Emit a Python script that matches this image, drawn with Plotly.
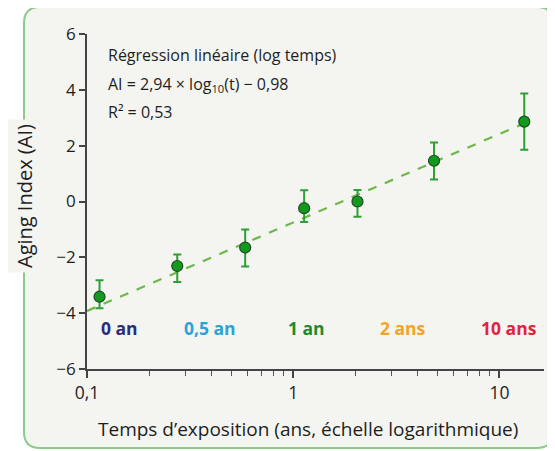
import numpy as np
import plotly.graph_objects as go

# ---------------- data ----------------
temps = [0.115, 0.274, 0.585, 1.13, 2.05, 4.82, 13.2]
aging_index = [-3.41, -2.31, -1.65, -0.24, 0.0, 1.46, 2.86]
err_plus = [0.59, 0.41, 0.65, 0.64, 0.41, 0.65, 1.01]
err_minus = [0.41, 0.57, 0.68, 0.49, 0.55, 0.67, 1.01]

fit_t = [0.1, 13.2]
fit_ai = [-3.92, 2.80]

period_labels = ["0 an", "0,5 an", "1 an", "2 ans", "10 ans"]
period_colors = ["#2b2c7c", "#2ba3d6", "#1d8a2c", "#f5a325", "#e1243c"]
period_t = [0.1435, 0.397, 1.16, 3.4, 11.1]

x_tickvals = [0.1, 1, 10]
x_ticktext = ["0,1", "1", "10"]
y_tickvals = [-6, -4, -2, 0, 2, 4, 6]

# ---------------- layout geometry ----------------
# the page body adds an 8 px margin, so the figure is drawn 8 px smaller
OFF = 8
W, H = 555 - OFF, 451 - OFF
ML, MR, MT, MB = 87 - OFF, 19 - OFF, 34 - OFF, 90 - OFF
PW, PH = W - ML - MR, H - MT - MB

def px2paper(x, y):
    # x, y are target-image pixel coordinates
    return (x - OFF - ML) / PW, (H - MB - (y - OFF)) / PH

FONT = "'Open Sans', sans-serif"
TXT = "#1e1e1e"

fig = go.Figure()

# regression line
fig.add_trace(go.Scatter(
    x=fit_t, y=fit_ai, mode="lines",
    line=dict(color="#6cb84a", width=2.2, dash="dash"),
    hoverinfo="skip", showlegend=False))

# points with error bars
fig.add_trace(go.Scatter(
    x=temps, y=aging_index, mode="markers",
    marker=dict(size=11, color="#119a1c", line=dict(color="#24482a", width=1.2)),
    error_y=dict(type="data", symmetric=False, array=err_plus, arrayminus=err_minus,
                 color="#2e9e36", thickness=2, width=4),
    showlegend=False))

# frame (rounded rectangle) in paper coordinates
L, R, T, B, r = 24, 553, 7, 448, 16
def P(x, y):
    px, py = px2paper(x, y)
    return f"{px:.5f},{py:.5f}"
path = (f"M {P(L + r, T)} L {P(R - r, T)} Q {P(R, T)} {P(R, T + r)} "
        f"L {P(R, B - r)} Q {P(R, B)} {P(R - r, B)} "
        f"L {P(L + r, B)} Q {P(L, B)} {P(L, B - r)} "
        f"L {P(L, T + r)} Q {P(L, T)} {P(L + r, T)} Z")
fig.add_shape(type="path", path=path, xref="paper", yref="paper",
              line=dict(color="#8dc98a", width=2), fillcolor="#f4f5f1", layer="below")

# regression annotation
ax0, _ = px2paper(107, 0)
for txt, yy in [
        ("Régression linéaire (log temps)", 55),
        ("AI = 2,94 × log<sub>10</sub>(t) − 0,98", 84),
        ("R² = 0,53", 112)]:
    _, ay = px2paper(0, yy)
    fig.add_annotation(x=ax0, y=ay, xref="paper", yref="paper", text=txt,
                       showarrow=False, xanchor="left", yanchor="middle", borderpad=0,
                       font=dict(family=FONT, size=16, color=TXT))

# period labels
_, ly = px2paper(0, 328)
for lab, col, t in zip(period_labels, period_colors, period_t):
    fig.add_annotation(x=np.log10(t), y=ly, xref="x", yref="paper", text=f"<b>{lab}</b>",
                       showarrow=False, xanchor="center", yanchor="middle",
                       font=dict(family=FONT, size=17.5, color=col))

# axis titles
tx, ty = px2paper(308, 429)
fig.add_annotation(x=tx, y=ty, xref="paper", yref="paper",
                   text="Temps d’exposition (ans, échelle logarithmique)",
                   showarrow=False, xanchor="center", yanchor="middle",
                   font=dict(family=FONT, size=19, color=TXT))
yx, yy = px2paper(24, 196)
fig.add_annotation(x=yx, y=yy, xref="paper", yref="paper",
                   text="Aging Index (AI)", textangle=-90,
                   showarrow=False, xanchor="center", yanchor="middle",
                   bgcolor="#f4f5f1", borderpad=4,
                   font=dict(family=FONT, size=20, color=TXT))

fig.update_xaxes(type="log", range=[-1, -1 + PW / 206.2],
                 tickvals=x_tickvals, ticktext=x_ticktext,
                 ticks="outside", ticklen=7, tickwidth=1.5, tickcolor="#444",
                 minor=dict(ticks="outside", ticklen=5, tickwidth=1.2, tickcolor="#555", dtick="D1"),
                 showline=True, linecolor="#444", linewidth=1.6,
                 showgrid=False, zeroline=False,
                 tickfont=dict(family=FONT, size=17.5, color=TXT))
fig.update_yaxes(range=[-6, 6], tickvals=y_tickvals,
                 ticks="outside", ticklen=6, tickwidth=1.5, tickcolor="#444",
                 showline=True, linecolor="#444", linewidth=1.6,
                 showgrid=False, zeroline=False,
                 tickfont=dict(family=FONT, size=17, color=TXT))

fig.update_layout(
    width=W, height=H,
    margin=dict(l=ML, r=MR, t=MT, b=MB),
    paper_bgcolor="white", plot_bgcolor="rgba(0,0,0,0)",
    separators=",.",
    showlegend=False,
    font=dict(family=FONT, color=TXT),
)

fig.write_html("out.html")
